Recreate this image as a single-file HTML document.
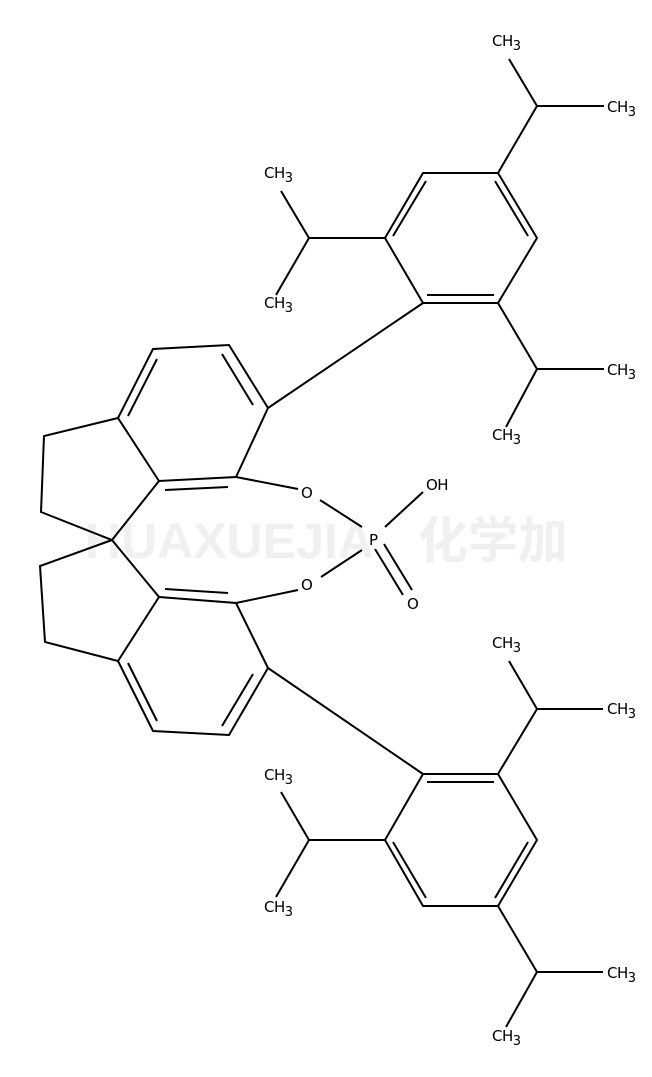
<!DOCTYPE html>
<html><head><meta charset="utf-8"><style>
html,body{margin:0;padding:0;background:#fff;}
svg{display:block;}
text{font-family:"DejaVu Sans","Liberation Sans",sans-serif;font-size:15px;fill:#000;letter-spacing:-0.5px;}
.wm{font-family:"Liberation Sans",sans-serif;font-size:50px;font-weight:bold;fill:#f0f0f0;letter-spacing:0;}
</style></head><body>
<svg width="652" height="1077" viewBox="0 0 652 1077" xmlns="http://www.w3.org/2000/svg">
<text class="wm" x="85" y="558">HUAXUEJIA</text>
<text class="wm" x="418" y="558" style="font-family:'Noto Sans CJK SC',sans-serif">化学加</text>
<g stroke="#000" stroke-width="2" fill="none" stroke-linecap="butt">
<polyline points="268,408 229,345 153,349 118,418 159,481 236,477 268,408"/>
<line x1="222" y1="354" x2="253" y2="405"/>
<line x1="157" y1="359" x2="128" y2="416"/>
<line x1="165" y1="490" x2="228" y2="487"/>
<polyline points="118,418 44,436 41,512 112,540 159,481"/>
<polyline points="112,540 40,566 45,642 118,661"/>
<line x1="112" y1="540" x2="159" y2="597"/>
<polyline points="159,597 236,603 268,668 229,735 153,731 118,661 159,597"/>
<line x1="165" y1="589" x2="228" y2="593"/>
<line x1="253" y1="674" x2="222" y2="726"/>
<line x1="128" y1="663" x2="157" y2="721"/>
<line x1="236" y1="477" x2="298" y2="489"/>
<line x1="320" y1="500" x2="362" y2="527"/>
<line x1="236" y1="603" x2="298" y2="590"/>
<line x1="321" y1="577" x2="362" y2="550"/>
<line x1="385" y1="527" x2="423" y2="492"/>
<line x1="375" y1="549" x2="403" y2="595"/>
<line x1="384" y1="544" x2="412" y2="590"/>
<line x1="268" y1="408" x2="423" y2="303"/>
<line x1="268" y1="668" x2="423" y2="774"/>
<polyline points="423,303 498,303 537,238 498,173 423,173 385,238 423,303"/>
<line x1="427" y1="295" x2="494" y2="295"/>
<line x1="528" y1="236" x2="495" y2="181"/>
<line x1="426" y1="181" x2="393" y2="236"/>
<polyline points="498,173 537,106 509,59"/><line x1="537" y1="106" x2="604" y2="106"/>
<polyline points="385,238 309,238 281,191"/><line x1="309" y1="238" x2="276" y2="295"/>
<polyline points="498,303 537,369 604,369"/><line x1="537" y1="369" x2="506" y2="427"/>
<polyline points="423,774 498,774 537,840 498,906 423,906 385,840 423,774"/>
<line x1="427" y1="782" x2="494" y2="782"/>
<line x1="528" y1="842" x2="495" y2="898"/>
<line x1="426" y1="898" x2="393" y2="842"/>
<polyline points="498,774 537,709 509,661"/><line x1="537" y1="709" x2="603" y2="709"/>
<polyline points="385,840 309,840 281,792"/><line x1="309" y1="840" x2="276" y2="897"/>
<polyline points="498,906 537,972 603,972"/><line x1="537" y1="972" x2="506" y2="1027"/>
</g>
<text x="301" y="498">O</text>
<text x="301" y="590">O</text>
<text x="369" y="545">P</text>
<text x="426" y="490">OH</text>
<text x="407" y="609">O</text>
<g>
<text x="492" y="46">CH<tspan dy="4" font-size="13">3</tspan></text>
<text x="607" y="112">CH<tspan dy="4" font-size="13">3</tspan></text>
<text x="264" y="178">CH<tspan dy="4" font-size="13">3</tspan></text>
<text x="264" y="308">CH<tspan dy="4" font-size="13">3</tspan></text>
<text x="607" y="375">CH<tspan dy="4" font-size="13">3</tspan></text>
<text x="492" y="440">CH<tspan dy="4" font-size="13">3</tspan></text>
<text x="492" y="648">CH<tspan dy="4" font-size="13">3</tspan></text>
<text x="607" y="714">CH<tspan dy="4" font-size="13">3</tspan></text>
<text x="264" y="780">CH<tspan dy="4" font-size="13">3</tspan></text>
<text x="264" y="912">CH<tspan dy="4" font-size="13">3</tspan></text>
<text x="607" y="978">CH<tspan dy="4" font-size="13">3</tspan></text>
<text x="492" y="1041">CH<tspan dy="4" font-size="13">3</tspan></text>
</g>
</svg>
</body></html>
